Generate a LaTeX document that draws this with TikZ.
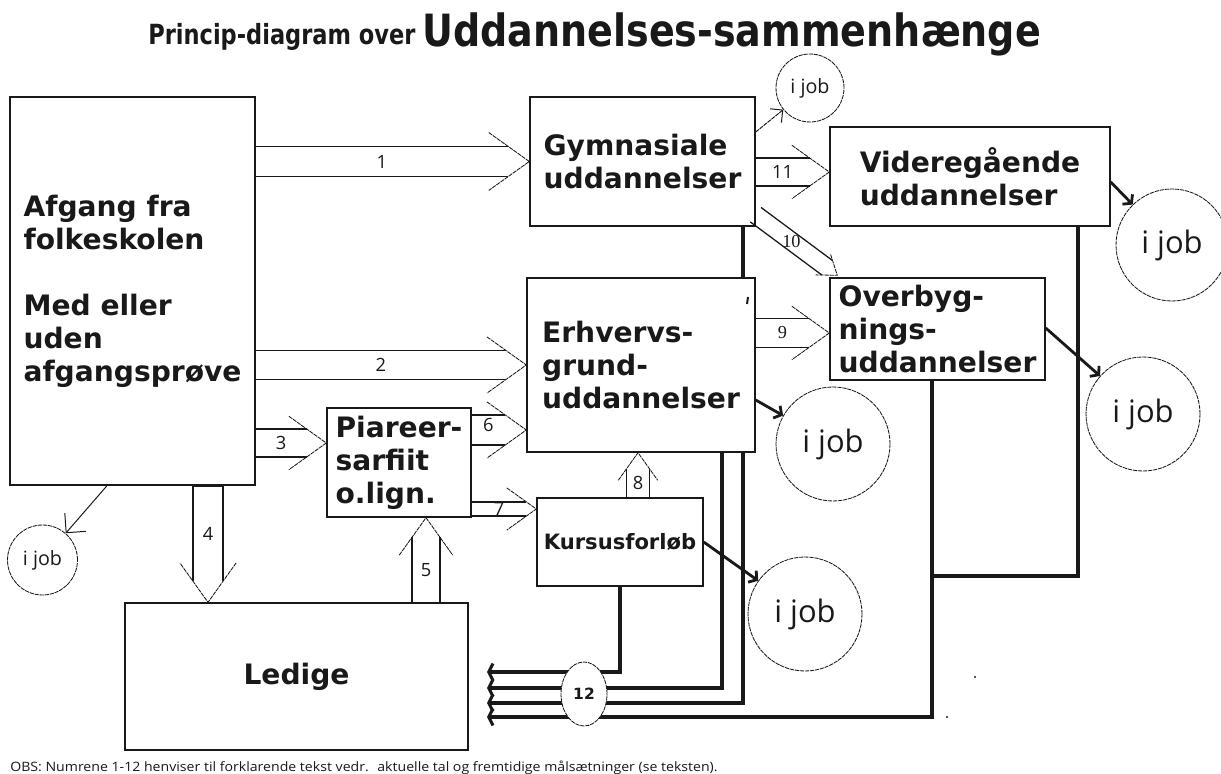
\documentclass[tikz,border=0pt]{standalone}
\usepackage{fontspec}
\setmainfont{DejaVu Sans}
\newfontfamily\jobfont{Open Sans}
\newfontfamily\serifnum{Liberation Serif}
\usepackage{graphicx}
\usetikzlibrary{arrows.meta,calc,shapes.geometric}
\definecolor{ink}{RGB}{25,25,25}

% hollow (double line) arrow: [label opts]{tail}{tip}{half width}{arm}{label}
\newcommand{\fatarrow}[6][]{%
  \pgfmathsetmacro{\fahw}{#4}%
  \pgfmathsetmacro{\faaw}{#5}%
  \pgfmathsetmacro{\fahl}{1.4*#5}%
  \pgfmathsetmacro{\fale}{1.4*#4}%
  \path ($(#3)!\fale pt!(#2)$) coordinate (fa-e)
        ($(#3)!\fahl pt!(#2)$) coordinate (fa-h);
  \draw[fatline] ($(#2)!\fahw pt!90:(#3)$) -- ($(fa-e)!\fahw pt!90:(#3)$)
                 ($(#2)!\fahw pt!-90:(#3)$) -- ($(fa-e)!\fahw pt!-90:(#3)$);
  \draw[fathead] ($(fa-h)!\faaw pt!90:(#3)$) -- (#3) -- ($(fa-h)!\faaw pt!-90:(#3)$);
  \node[numlabel,#1] (lbl#6) at ($(#2)!0.5!(fa-e)$) {#6};%
}

\begin{document}
\begin{tikzpicture}[x=0.025cm,y=-0.025cm,color=ink,
  box/.style={draw,line width=1pt,align=left,inner sep=0pt,
    font=\bfseries\fontsize{20}{23.5}\selectfont},
  boxsize/.style 2 args={minimum width=#1*0.025cm,minimum height=#2*0.025cm},
  fatline/.style={line width=0.9pt},
  fathead/.style={line width=0.6pt,dash pattern=on 3pt off 0.6pt},
  numlabel/.style={inner sep=1pt,font=\jobfont\fontsize{13}{15}\selectfont},
  jobcircle/.style={draw,circle,inner sep=0pt,line width=0.6pt,dash pattern=on 3pt off 0.6pt},
  thinarrow/.style={line width=0.7pt,-{Straight Barb[angle=90:11pt]}},
  jobarrow/.style={line width=2pt,-{Straight Barb[length=4pt,width=10pt]}},
  retline/.style={line width=2.2pt},
  retarrow/.style={line width=2.2pt,-{Straight Barb[length=3pt,width=12pt]}}]

\fill[white] (0,0) rectangle (1221,774);
\useasboundingbox (0,0) rectangle (1221,774);

\node[anchor=base west,inner sep=0pt] (subtitle) at (148,45)
  {\resizebox{190pt}{15pt}{\bfseries Princip-diagram over}};
\node[anchor=base west,inner sep=0pt] (title) at (422,47)
  {\resizebox{440pt}{24pt}{\bfseries Uddannelses-sammenhænge}};

\node[box,boxsize={245}{388}] (afgang) at (132.5,291)
  {Afgang fra\\folkeskolen\\[23.5pt]Med eller\\uden\\afgangsprøve};
\node[box,boxsize={225}{129}] (gym) at (642.5,161.5) {Gymnasiale\\uddannelser};
\node[box,boxsize={280}{99}] (vider) at (970,176.5) {Videregående\\uddannelser};
\node[box,boxsize={228}{174}] (erhverv) at (641,365) {Erhvervs-\\grund-\\uddannelser};
\node[box,boxsize={215}{102}] (overbyg) at (937.5,329) {Overbyg-\\nings-\\uddannelser};
\node[box,boxsize={144}{109}] (piareer) at (399,462.5) {Piareer-\\sarfiit\\o.lign.};
\node[box,boxsize={166}{88},font=\bfseries\fontsize{15}{18}\selectfont] (kurs) at (620,542) {Kursusforløb};
\node[box,boxsize={343}{147}] (ledige) at (296.5,676.5) {Ledige};

\foreach \n/\x/\y/\d/\f in {jobS/810/88/68/14,jobA/42.5/560/70/14,jobV/1172/245/112/22,
  jobO/1143/414/114/22,jobE/833/444/114/22,jobK/805/614/114/22}
  \node[jobcircle,minimum size=\d*0.025cm,font=\jobfont\fontsize{\f}{\f}\selectfont] (\n) at (\x,\y) {i job};

\fatarrow{afgang.east |- gym.west}{gym.west}{10.7}{20.6}{1}
\fatarrow{afgang.east |- erhverv.west}{erhverv.west}{10.3}{20}{2}
\fatarrow{afgang.east |- 0,443}{piareer.west |- 0,443}{10}{19}{3}
\fatarrow{afgang.south -| 208,0}{ledige.north -| 208,0}{10.7}{20}{4}
\fatarrow{ledige.north -| 426,0}{piareer.south -| 426,0}{10}{19}{5}
\fatarrow[yshift=3.5pt]{piareer.east |- 0,430}{erhverv.west |- 0,430}{10.7}{20}{6}
\fatarrow{piareer.east |- 0,509}{kurs.west |- 0,509}{5}{15}{7}
\fatarrow{kurs.north -| 638,0}{erhverv.south -| 638,0}{8.2}{14}{8}
\fatarrow[font=\serifnum\fontsize{13}{15}\selectfont]{erhverv.east |- 0,333}{overbyg.west |- 0,333}{10.3}{19}{9}
\coordinate (g10) at ($(gym.south east)+(0,-12)$);
\coordinate (o10) at ($(overbyg.north west)+(8,-2)$);
\fatarrow[font=\serifnum\fontsize{13}{15}\selectfont]{g10}{o10}{6.4}{9}{10}
\fatarrow{gym.east |- 0,172}{vider.west |- 0,172}{10}{19}{11}
\draw[line width=2pt] (afgang.south -| 193,0) -- (afgang.south -| 223,0);

\draw[thinarrow,-{Straight Barb[angle=90:14pt]}] (afgang.south -| 107,0) -- (jobA);
\draw[thinarrow,dash pattern=on 3pt off 0.6pt,-{Straight Barb[angle=90:9pt]}] (gym.east |- 0,132) -- (jobS);
\draw[jobarrow] (vider.east |- 0,182) -- (jobV);
\draw[jobarrow] (overbyg.east |- 0,328) -- (jobO);
\draw[jobarrow] (erhverv.east |- 0,400) -- (jobE);
\draw[jobarrow] (kurs.east) -- (jobK);

\foreach \i/\y in {1/672,2/688,3/703,4/717}
  \coordinate (r\i) at (487,\y);
\coordinate (join) at (932,576);
\draw[retarrow] (kurs.south) |- (r1);
\draw[retarrow] (erhverv.south -| 722,0) |- (r2);
\draw[retline] (gym.south -| 743,0) -- (erhverv.north -| 743,0);
\draw[retarrow] (erhverv.south -| 743,0) |- (r3);
\draw[retline] (vider.south -| 1078,0) |- (join);
\draw[retarrow] (overbyg.south -| 932,0) |- (r4);
\node[draw,ellipse,fill=white,inner sep=0pt,line width=0.6pt,dash pattern=on 3pt off 0.6pt,
  minimum width=46*0.025cm,minimum height=64*0.025cm,font=\bfseries\fontsize{11}{11}\selectfont]
  (twelve) at (584,694) {12};

\draw[line width=1.4pt] (748,297) -- (747,304);
\fill (975,677) circle (0.8pt);
\fill (947,717) circle (0.8pt);

\node[anchor=base west,inner sep=0pt] (obs) at (10,771)
  {\resizebox{503pt}{7.5pt}{\jobfont OBS: Numrene 1-12 henviser til forklarende tekst vedr.~ aktuelle tal og fremtidige målsætninger (se teksten).}};
\end{tikzpicture}
\end{document}
